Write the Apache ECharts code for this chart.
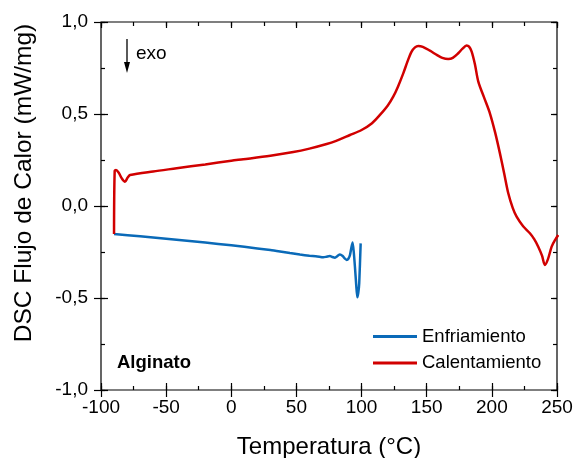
<!DOCTYPE html>
<html>
<head>
<meta charset="utf-8">
<script src="https://cdn.jsdelivr.net/npm/echarts@6/dist/echarts.min.js"></script>
<style>
  html, body { margin: 0; padding: 0; background: #fff; }
  #chart { width: 578px; height: 458px; }
</style>
</head>
<body>
<div id="chart"></div>
<script>
// DSC thermogram of alginate: cooling and heating runs
const xTicks = [-100, -50, 0, 50, 100, 150, 200, 250];
const yTicks = [-1.0, -0.5, 0.0, 0.5, 1.0];

// Cooling run (Enfriamiento): temperature (°C) and heat flow (mW/mg)
const coolT = [-90, -70, -50, -30, -10, 10, 30, 37.4, 45, 52.7, 60, 66, 70.6, 73, 75.7, 77.5, 79.6, 81.5, 83.4, 85.5, 87, 88.6, 90, 91.1, 92.2, 93.1, 94, 94.9, 95.9, 96.7, 97.5, 98.2, 99.3];
const coolQ = [-0.152, -0.165, -0.178, -0.192, -0.206, -0.222, -0.239, -0.247, -0.256, -0.264, -0.270, -0.274, -0.279, -0.276, -0.272, -0.277, -0.281, -0.272, -0.263, -0.272, -0.285, -0.293, -0.285, -0.266, -0.225, -0.199, -0.250, -0.330, -0.430, -0.496, -0.470, -0.420, -0.203];

// Heating run (Calentamiento)
const heatT = [-90, -89.5, -88.5, -86.5, -84, -81.6, -79.5, -77.7, -60, -41.9, -20, 0, 9.2, 30, 47.6, 60, 73.2, 80, 91.1, 100, 108, 114.1, 120, 124.3, 128, 132, 135.5, 138.4, 141, 143.5, 147, 152.5, 158, 162, 166.5, 170, 174.2, 177.5, 180.6, 182.5, 184.5, 187, 189.6, 194, 198.5, 202.5, 206.2, 209.5, 212.6, 216, 219, 224, 229.2, 232.5, 235.6, 238.5, 240.7, 243, 245.9, 248.5, 251];
const heatQ = [-0.152, 0.190, 0.196, 0.182, 0.150, 0.132, 0.155, 0.168, 0.188, 0.205, 0.226, 0.246, 0.254, 0.273, 0.293, 0.312, 0.337, 0.353, 0.386, 0.413, 0.450, 0.495, 0.545, 0.594, 0.650, 0.721, 0.790, 0.839, 0.862, 0.870, 0.865, 0.844, 0.820, 0.805, 0.799, 0.805, 0.830, 0.855, 0.872, 0.866, 0.839, 0.770, 0.676, 0.590, 0.504, 0.400, 0.286, 0.175, 0.069, -0.010, -0.058, -0.110, -0.148, -0.180, -0.221, -0.270, -0.320, -0.290, -0.221, -0.185, -0.158];

const coolData = coolT.map((t, i) => [t, coolQ[i]]);
const heatData = heatT.map((t, i) => [t, heatQ[i]]);

const chart = echarts.init(document.getElementById('chart'));
const font = 'Liberation Sans, Arial, sans-serif';
const black = '#000';
const blue = '#0a6ab8';
const red = '#d10000';
const fmtComma = v => v.toFixed(1).replace('.', ',');

// A bare axis that only contributes tick marks on one side of the frame
function tickAxis(kind, position, interval, inside, length) {
  const range = kind === 'x' ? { min: xTicks[0], max: xTicks[xTicks.length - 1] }
                             : { min: yTicks[0], max: yTicks[yTicks.length - 1] };
  return Object.assign({
    type: 'value', position: position, interval: interval,
    splitLine: { show: false },
    axisLine: { show: false, onZero: false },
    axisLabel: { show: false },
    axisTick: { show: true, inside: inside, length: length, lineStyle: { color: black, width: 1.2 } }
  }, range);
}

const xMain = tickAxis('x', 'bottom', 50, true, 7);
xMain.axisLabel = { show: true, fontFamily: font, fontSize: 19, color: black, margin: 8 };
xMain.name = 'Temperatura (°C)';
xMain.nameLocation = 'middle';
xMain.nameGap = 45;
xMain.nameTextStyle = { fontFamily: font, fontSize: 24, color: black };

const yMain = tickAxis('y', 'left', 0.5, true, 7);
yMain.axisLabel = { show: true, fontFamily: font, fontSize: 19, color: black, margin: 13, formatter: fmtComma };

chart.setOption({
  animation: false,
  backgroundColor: '#fff',
  grid: { left: 101, right: 21, top: 22, bottom: 68, containLabel: false, outerBoundsMode: 'none',
          show: true, borderColor: black, borderWidth: 1.2, backgroundColor: 'transparent' },
  xAxis: [
    xMain,
    tickAxis('x', 'bottom', 50, false, 7),
    tickAxis('x', 'bottom', 25, true, 4),
    tickAxis('x', 'top', 50, true, 6),
    tickAxis('x', 'top', 25, true, 4)
  ],
  yAxis: [
    yMain,
    tickAxis('y', 'left', 0.5, false, 7),
    tickAxis('y', 'left', 0.25, true, 4),
    tickAxis('y', 'right', 0.5, true, 6),
    tickAxis('y', 'right', 0.25, true, 4)
  ],
  legend: {
    orient: 'vertical',
    left: 368, top: 322,
    itemWidth: 44, itemHeight: 3, itemGap: 7.5, itemStyle: { borderWidth: 0 },
    icon: 'rect',
    textStyle: { fontFamily: font, fontSize: 18.5, color: black },
    data: ['Enfriamiento', 'Calentamiento']
  },
  series: [
    {
      name: 'Enfriamiento', type: 'line', data: coolData,
      xAxisIndex: 0, yAxisIndex: 0,
      showSymbol: false, smooth: 0.2,
      lineStyle: { color: blue, width: 2.5 },
      itemStyle: { color: blue },
      z: 3
    },
    {
      name: 'Calentamiento', type: 'line', data: heatData,
      xAxisIndex: 0, yAxisIndex: 0,
      showSymbol: false, smooth: 0.3,
      lineStyle: { color: red, width: 2.5 },
      itemStyle: { color: red },
      z: 4
    }
  ],
  graphic: [
    { type: 'text', x: 24, y: 183, rotation: Math.PI / 2,
      style: { text: 'DSC Flujo de Calor (mW/mg)', font: '24.5px Liberation Sans, Arial, sans-serif',
               fill: black, align: 'center', verticalAlign: 'middle' } },
    { type: 'line', shape: { x1: 127, y1: 39, x2: 127, y2: 64 }, style: { stroke: black, lineWidth: 1.3 } },
    { type: 'polygon', shape: { points: [[124, 62], [130, 62], [127, 73]] }, style: { fill: black } },
    { type: 'text', x: 136, y: 54,
      style: { text: 'exo', font: '19px Liberation Sans, Arial, sans-serif', fill: black, align: 'left', verticalAlign: 'middle' } },
    { type: 'text', x: 117, y: 362.5,
      style: { text: 'Alginato', font: 'bold 18.5px Liberation Sans, Arial, sans-serif', fill: black, align: 'left', verticalAlign: 'middle' } }
  ]
});
</script>
</body>
</html>
